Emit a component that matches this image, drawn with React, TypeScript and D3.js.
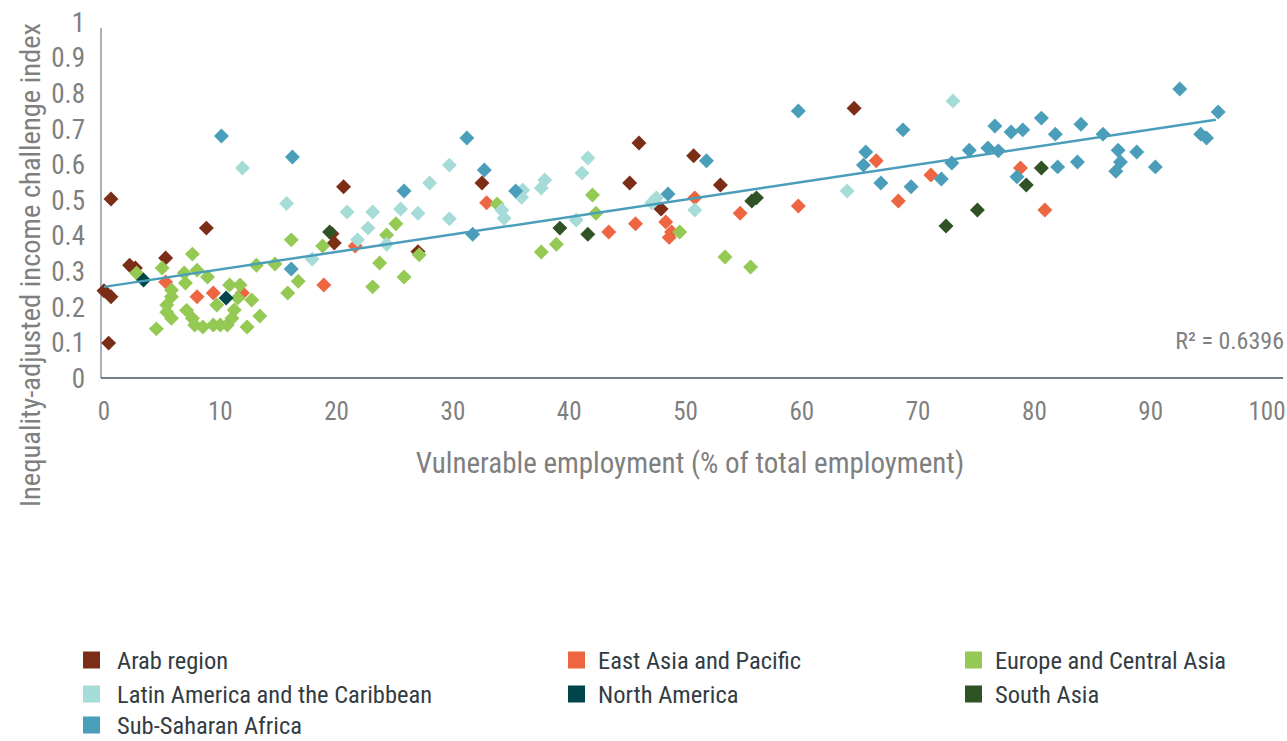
import { useEffect, useRef } from "react";
import * as d3 from "d3";

// regions in legend order
const regions = [
  "Arab region",
  "East Asia and Pacific",
  "Europe and Central Asia",
  "Latin America and the Caribbean",
  "North America",
  "South Asia",
  "Sub-Saharan Africa",
];
const colors = ["#7b2d16", "#ee6541", "#94c954", "#a6dcd8", "#004549", "#2f5325", "#4a9eba"];

// [vulnerable employment %, index]
const arab = [
  [0.6, 0.503], [0, 0.245], [0.6, 0.228], [0.4, 0.098], [2.2, 0.317], [2.7, 0.309],
  [5.3, 0.337], [8.8, 0.421], [20.6, 0.537], [19.6, 0.405], [19.8, 0.379], [27.0, 0.355],
  [32.5, 0.548], [45.2, 0.548], [46.0, 0.66], [47.9, 0.475], [50.7, 0.624], [53.0, 0.542],
  [64.5, 0.758],
];
const eastAsia = [
  [5.3, 0.27], [8.0, 0.228], [9.4, 0.239], [11.9, 0.239], [18.9, 0.261], [21.6, 0.371],
  [32.9, 0.492], [43.4, 0.41], [45.7, 0.433], [48.3, 0.438], [48.8, 0.41], [48.6, 0.395],
  [50.8, 0.506], [54.7, 0.463], [59.7, 0.483], [66.4, 0.61], [68.3, 0.497], [71.1, 0.57],
  [78.8, 0.59], [80.9, 0.472],
];
const europe = [
  [2.8, 0.295], [7.6, 0.348], [5.0, 0.309], [6.9, 0.295], [8.0, 0.303], [8.9, 0.284],
  [7.0, 0.267], [5.8, 0.247], [5.8, 0.228], [5.4, 0.205], [5.4, 0.185], [5.8, 0.168],
  [4.5, 0.138], [7.1, 0.19], [7.6, 0.168], [7.8, 0.149], [8.5, 0.143], [9.4, 0.149],
  [10.0, 0.149], [10.6, 0.149], [11.0, 0.168], [10.8, 0.261], [11.7, 0.261], [9.7, 0.205],
  [11.5, 0.225], [12.7, 0.219], [11.2, 0.191], [12.3, 0.143], [13.4, 0.174], [13.1, 0.317],
  [14.7, 0.32], [15.8, 0.239], [16.1, 0.388], [16.7, 0.272], [18.8, 0.371], [25.1, 0.433],
  [24.3, 0.402], [23.7, 0.323], [25.8, 0.284], [23.1, 0.256], [27.1, 0.346], [33.8, 0.489],
  [42.0, 0.514], [42.3, 0.463], [38.9, 0.376], [37.6, 0.354], [49.5, 0.41], [53.4, 0.34],
  [55.6, 0.312],
];
const latinAmerica = [
  [11.9, 0.59], [15.7, 0.49], [20.9, 0.466], [23.1, 0.466], [22.7, 0.421], [21.8, 0.388],
  [17.9, 0.334], [25.5, 0.475], [27.0, 0.463], [24.3, 0.376], [28.0, 0.548], [29.7, 0.598],
  [29.7, 0.447], [41.6, 0.618], [41.1, 0.576], [37.9, 0.556], [37.6, 0.534], [36.0, 0.528],
  [35.9, 0.508], [34.2, 0.472], [34.4, 0.449], [40.6, 0.444], [47.1, 0.492], [47.5, 0.506],
  [50.8, 0.472], [73.0, 0.778], [63.9, 0.525],
];
const northAmerica = [[3.4, 0.275], [10.5, 0.225]];
const southAsia = [
  [19.4, 0.41], [39.2, 0.421], [41.6, 0.404], [55.7, 0.497], [56.1, 0.506], [72.4, 0.427],
  [75.1, 0.472], [79.3, 0.542], [80.6, 0.59],
];
const subSaharan = [
  [10.1, 0.68], [16.2, 0.621], [16.1, 0.306], [25.8, 0.525], [31.2, 0.674], [32.7, 0.584],
  [31.7, 0.404], [35.4, 0.525], [48.5, 0.517], [51.8, 0.61], [59.7, 0.75], [68.7, 0.697],
  [65.5, 0.635], [65.3, 0.598], [66.8, 0.548], [69.4, 0.537], [72.0, 0.559], [72.9, 0.604],
  [74.4, 0.64], [76.0, 0.646], [76.9, 0.638], [76.6, 0.708], [78.0, 0.691], [79.0, 0.697],
  [78.5, 0.565], [80.6, 0.73], [81.8, 0.685], [84.0, 0.713], [85.9, 0.685], [87.2, 0.64],
  [87.4, 0.607], [87.0, 0.581], [88.8, 0.635], [90.4, 0.593], [83.7, 0.607], [82.0, 0.593],
  [92.5, 0.812], [95.8, 0.747], [94.3, 0.685], [94.8, 0.674],
];
const seriesData = [arab, eastAsia, europe, latinAmerica, northAmerica, southAsia, subSaharan];

// linear trend as shown in the chart
const trendIntercept = 0.256;
const trendSlope = 0.00491;
const trendRange = [0, 95.6];
const rSquared = "R\u00b2 = 0.6396";

const xTicks = [0, 10, 20, 30, 40, 50, 60, 70, 80, 90, 100];
const yTicks = [0, 0.1, 0.2, 0.3, 0.4, 0.5, 0.6, 0.7, 0.8, 0.9, 1];

const FONT = "'Roboto Condensed', 'Liberation Sans Narrow', 'DejaVu Sans Condensed', Roboto, sans-serif";

const App = () => {
  const svgRef = useRef(null);

  useEffect(() => {
    const width = 1287;
    const height = 741;
    const svg = d3.select(svgRef.current);
    svg.selectAll("*").remove();
    svg.attr("width", width).attr("height", height);

    const x = d3.scaleLinear().domain([0, 100]).range([104, 1267]);
    const y = d3.scaleLinear().domain([0, 1]).range([378, 22]);

    // axes lines
    svg.append("line")
      .attr("x1", 101).attr("x2", 101)
      .attr("y1", y(1) + 6).attr("y2", y(0))
      .attr("stroke", "#8a98a3").attr("stroke-width", 1.5);
    svg.append("line")
      .attr("x1", 101).attr("x2", 1283)
      .attr("y1", y(0)).attr("y2", y(0))
      .attr("stroke", "#44545e").attr("stroke-width", 1.5);

    // tick labels
    svg.append("g").selectAll("text").data(yTicks).enter().append("text")
      .attr("x", 85).attr("y", (d) => y(d))
      .attr("dy", "0.36em")
      .attr("text-anchor", "end")
      .attr("font-family", FONT).attr("font-size", 27)
      .attr("fill", "#7f7f7f")
      .text((d) => d3.format("~g")(d));

    svg.append("g").selectAll("text").data(xTicks).enter().append("text")
      .attr("x", (d) => x(d)).attr("y", 420)
      .attr("text-anchor", "middle")
      .attr("font-family", FONT).attr("font-size", 25)
      .attr("fill", "#7f7f7f")
      .text((d) => d);

    // axis titles
    svg.append("text")
      .attr("x", 690).attr("y", 473)
      .attr("text-anchor", "middle")
      .attr("font-family", FONT).attr("font-size", 29)
      .attr("fill", "#7f7f7f")
      .text("Vulnerable employment (% of total employment)");
    svg.append("text")
      .attr("transform", "rotate(-90)")
      .attr("x", -265).attr("y", 40)
      .attr("text-anchor", "middle")
      .attr("font-family", FONT).attr("font-size", 28.5)
      .attr("fill", "#7f7f7f")
      .text("Inequality-adjusted income challenge index");

    // points: diamonds
    const diamond = d3.symbol().type(d3.symbolSquare).size(112);
    seriesData.forEach((pts, i) => {
      svg.append("g").selectAll("path").data(pts).enter().append("path")
        .attr("d", diamond)
        .attr("transform", (d) => `translate(${x(d[0])},${y(d[1])}) rotate(45)`)
        .attr("fill", colors[i]);
    });

    // trend line
    svg.append("line")
      .attr("x1", x(trendRange[0])).attr("y1", y(trendIntercept + trendSlope * trendRange[0]))
      .attr("x2", x(trendRange[1])).attr("y2", y(trendIntercept + trendSlope * trendRange[1]))
      .attr("stroke", "#4a9eba").attr("stroke-width", 2.5);

    svg.append("text")
      .attr("x", 1284).attr("y", 349)
      .attr("text-anchor", "end")
      .attr("font-family", FONT).attr("font-size", 24)
      .attr("fill", "#7f7f7f")
      .text(rSquared);

    // legend
    const squareX = [83, 568, 965];
    const labelX = [117, 598, 995];
    const rowY = [660, 694, 725];
    const legend = svg.append("g").selectAll("g").data(regions).enter().append("g")
      .attr("transform", (d, i) => `translate(0,${rowY[Math.floor(i / 3)]})`);
    legend.append("rect")
      .attr("x", (d, i) => squareX[i % 3]).attr("y", -8.5)
      .attr("width", 17).attr("height", 17)
      .attr("fill", (d, i) => colors[i]);
    legend.append("text")
      .attr("x", (d, i) => labelX[i % 3]).attr("y", 0)
      .attr("dy", "0.36em")
      .attr("font-family", FONT).attr("font-size", 24.5)
      .attr("fill", "#333c42")
      .text((d) => d);
  }, []);

  return (
    <div>
      <svg ref={svgRef} style={{ position: "absolute", left: 0, top: 0 }}></svg>
    </div>
  );
};

export default App;
